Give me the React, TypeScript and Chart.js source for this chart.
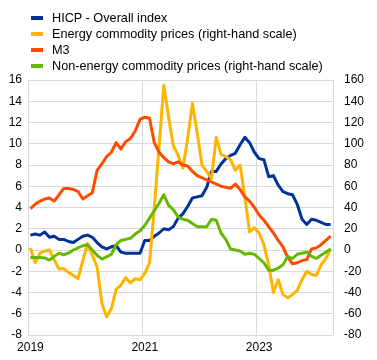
import React, { useEffect, useRef } from "react";
import { Chart, registerables } from "chart.js";

Chart.register(...registerables);

const months: string[] = [
  "2019-01","2019-02","2019-03","2019-04","2019-05","2019-06","2019-07","2019-08","2019-09","2019-10","2019-11","2019-12",
  "2020-01","2020-02","2020-03","2020-04","2020-05","2020-06","2020-07","2020-08","2020-09","2020-10","2020-11","2020-12",
  "2021-01","2021-02","2021-03","2021-04","2021-05","2021-06","2021-07","2021-08","2021-09","2021-10","2021-11","2021-12",
  "2022-01","2022-02","2022-03","2022-04","2022-05","2022-06","2022-07","2022-08","2022-09","2022-10","2022-11","2022-12",
  "2023-01","2023-02","2023-03","2023-04","2023-05","2023-06","2023-07","2023-08","2023-09","2023-10","2023-11","2023-12",
  "2024-01","2024-02","2024-03","2024-04",
];

const yearTickLabels: string[] = ["2019", "2021", "2023"];

const hicp: number[] = [
  1.4, 1.5, 1.4, 1.7, 1.2, 1.3, 1.0, 1.0, 0.8, 0.7, 1.0, 1.3,
  1.4, 1.2, 0.7, 0.3, 0.1, 0.3, 0.4, -0.2, -0.3, -0.3, -0.3, -0.3,
  0.9, 0.9, 1.3, 1.6, 2.0, 1.9, 2.2, 3.0, 3.4, 4.1, 4.9, 5.0,
  5.1, 5.9, 7.4, 7.4, 8.1, 8.6, 8.9, 9.1, 9.9, 10.6, 10.1, 9.2,
  8.6, 8.5, 6.9, 7.0, 6.1, 5.5, 5.3, 5.2, 4.3, 2.9, 2.4, 2.9,
  2.8, 2.6, 2.4, 2.4,
];

const energy: number[] = [
  2, -12, -3, -1, 0, -9, -18, -17.5, -21, -24, -27, -10,
  6, -5, -16, -50, -63, -55, -37, -33, -26, -31, -27, -28,
  -22, -12, 40, 97, 155, 125, 98, 89, 77, 105, 138, 110,
  80, 74, 67, 106, 90, 88, 85, 75, 80, 50, 17, 21,
  16, 5, -14, -40, -28, -42, -45, -42, -38, -28, -20, -23,
  -24, -14, -8, 1,
];

const m3: number[] = [
  3.9, 4.3, 4.6, 4.8, 4.9, 4.6, 5.2, 5.8, 5.8, 5.7, 5.5, 4.8,
  5.1, 5.4, 7.5, 8.1, 8.8, 9.2, 10.1, 9.5, 10.2, 10.5, 11.2, 12.3,
  12.5, 12.4, 10.1, 9.2, 8.7, 8.3, 8.1, 8.3, 8.0, 7.9, 7.4, 7.0,
  6.8, 6.6, 6.4, 6.2, 6.0, 5.9, 5.8, 6.2, 5.7, 5.0, 4.6, 4.0,
  3.3, 2.8, 2.2, 1.6, 0.9, 0.3, -0.7, -1.3, -1.2, -1.0, -0.9, 0.1,
  0.2, 0.5, 0.9, 1.3,
];

const nonEnergy: number[] = [
  -7, -7, -7, -7.5, -9.5, -6, -3, -4.5, -3, 0, 2, 4,
  5, 0, -5, -8.5, -6.5, -4, 5, 9, 10, 11, 15, 18,
  23, 30, 37, 44, 52, 42, 38, 31, 29, 28, 25, 22,
  22, 22, 29, 28, 16, 10, 1, 0, -1, -4, -3, -4,
  -8, -12, -19, -19, -17, -14, -6, -8, -4, -3, -2, -6,
  -8, -5, -2, 1,
];

const seriesNames: string[] = [
  "HICP - Overall index",
  "Energy commodity prices (right-hand scale)",
  "M3",
  "Non-energy commodity prices (right-hand scale)",
];
const seriesColors: string[] = ["#003299", "#FFB400", "#FF4B00", "#65B800"];

const GRID = "#d9d9d9";
const FONT = 'Arial, "Liberation Sans", sans-serif';

export default function App() {
  const canvasRef = useRef<HTMLCanvasElement | null>(null);

  useEffect(() => {
    document.body.style.margin = "0";
    const canvas = canvasRef.current;
    if (!canvas) return;
    Chart.defaults.font.family = FONT;
    Chart.defaults.color = "#000";

    const mk = (i: number, data: number[], axis: string, order: number) => ({
      label: seriesNames[i],
      data,
      yAxisID: axis,
      borderColor: seriesColors[i],
      backgroundColor: seriesColors[i],
      borderWidth: 3,
      pointRadius: 0,
      tension: 0,
      fill: false,
      borderJoinStyle: "round" as const,
      order,
    });

    const chart = new Chart(canvas, {
      type: "line",
      data: {
        labels: months,
        datasets: [
          mk(0, hicp, "y", 3),
          mk(1, energy, "y1", 2),
          mk(2, m3, "y", 1),
          mk(3, nonEnergy, "y1", 0),
        ],
      },
      options: {
        animation: false,
        responsive: false,
        layout: { padding: { top: 80, left: 0, right: 0, bottom: 0 } },
        plugins: { legend: { display: false }, tooltip: { enabled: false } },
        scales: {
          x: {
            type: "category",
            offset: true,
            grid: {
              offset: true,
              drawTicks: false,
              color: (ctx: any) =>
                ctx.type !== "tick" || ctx.index % 24 === 0 ? GRID : "rgba(0,0,0,0)",
            },
            border: { display: false },
            ticks: {
              autoSkip: false,
              maxRotation: 0,
              padding: 5,
              font: { size: 12, family: FONT },
              color: "#000",
              callback: (_v: any, idx: number) =>
                idx % 24 === 0 ? yearTickLabels[idx / 24] ?? "" : "",
            },
            afterFit: (s: any) => {
              s.height = 25;
            },
          },
          y: {
            position: "left",
            min: -8,
            max: 16,
            ticks: { stepSize: 2, padding: 6, font: { size: 12, family: FONT }, color: "#000" },
            grid: { color: GRID, drawTicks: false },
            border: { display: false },
            afterFit: (s: any) => {
              s.width = 28;
            },
          },
          y1: {
            position: "right",
            min: -80,
            max: 160,
            ticks: { stepSize: 20, padding: 11, font: { size: 12, family: FONT }, color: "#000" },
            grid: { display: false, drawTicks: false },
            border: { display: false },
            afterFit: (s: any) => {
              s.width = 44;
            },
          },
        },
      },
    });
    return () => chart.destroy();
  }, []);

  return (
    <div style={{ position: "relative", width: 377, height: 360, background: "#fff" }}>
      <canvas ref={canvasRef} width={377} height={360} style={{ position: "absolute", left: 0, top: 0 }} />
      <div style={{ position: "absolute", left: 0, top: 10, fontFamily: FONT, fontSize: "12.7px", color: "#000" }}>
        {seriesNames.map((n, i) => (
          <div key={n} style={{ position: "relative", height: 16, lineHeight: "16px", whiteSpace: "nowrap" }}>
            <span
              style={{
                position: "absolute",
                left: 31,
                top: 6,
                width: 12,
                height: 4,
                background: seriesColors[i],
              }}
            />
            <span style={{ position: "absolute", left: 52, top: 0 }}>{n}</span>
          </div>
        ))}
      </div>
    </div>
  );
}
